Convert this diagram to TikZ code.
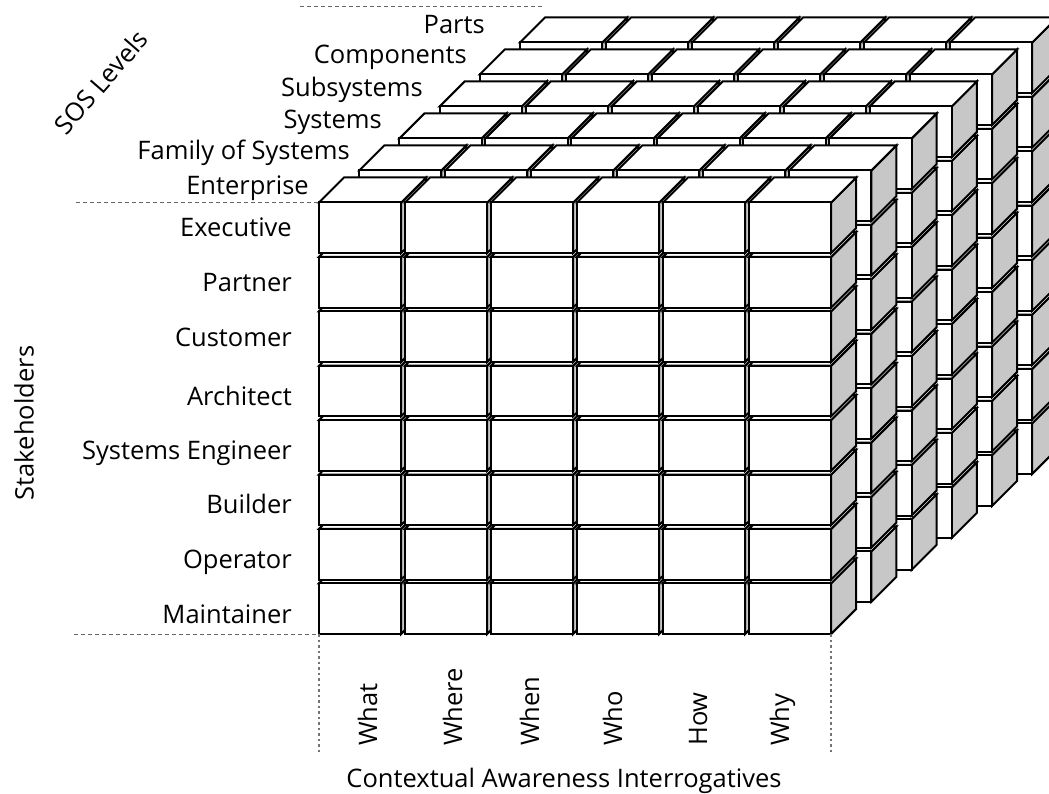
\documentclass[tikz,border=0pt]{standalone}
\usepackage{fontspec}
\setmainfont{Open Sans}
\begin{document}
\begin{tikzpicture}[x=1pt,y=-1pt,
  frontface/.style={draw=black, line width=2pt, line join=miter, fill=white},
  sideface/.style={draw=black, line width=2pt, line join=miter, fill=black!22},
  lbl/.style={font=\fontsize{25.5}{30}\selectfont, inner sep=0pt, text=black},
  guide/.style={draw=black!60, line width=1pt, dash pattern=on 4pt off 3pt},
  vguide/.style={draw=black!55, line width=1.2pt, dash pattern=on 2.5pt off 3pt}]
\useasboundingbox (0,0) rectangle (1049,794);
\def\bw{82.2}\def\bh{50.6}\def\ddx{25}\def\ddy{25}
\newcommand\blockat[2]{%
  \draw[sideface] (#1+\bw,#2) -- (#1+\bw+\ddx,#2-\ddy) -- (#1+\bw+\ddx,#2+\bh-\ddy) -- (#1+\bw,#2+\bh) -- cycle;
  \draw[frontface] (#1,#2) -- (#1+\ddx,#2-\ddy) -- (#1+\bw+\ddx,#2-\ddy) -- (#1+\bw,#2) -- cycle;
  \draw[frontface] (#1,#2) rectangle (#1+\bw,#2+\bh);
}
% blocks: layers back to front, rows bottom to top, columns left to right
\foreach \k in {5,4,...,0} {
  \foreach \r in {7,6,...,0} {
    \foreach \c in {0,...,5} {
      \pgfmathsetmacro\X{319+40.2*\k+86*\c}
      \pgfmathsetmacro\Y{202.5-32*\k+54.4*\r}
      \blockat{\X}{\Y}
    }}}
% guide coordinates
\coordinate (ftl) at (319,202.5);
\coordinate (fbl) at (319,634);
\coordinate (fbr) at (831,634);
\coordinate (gtl) at (76,202.5);
\coordinate (gbl) at (74,634);
\coordinate (ttl) at (300,7);
\coordinate (ttr) at (542,7);
\coordinate (vl) at (319,752);
\coordinate (vr) at (831,752);
\draw[guide] (gtl) -- (ftl);
\draw[guide] (gbl) -- (fbl);
\draw[guide] (ttl) -- (ttr);
\draw[vguide] (fbl) -- (vl);
\draw[vguide] (fbr) -- (vr);
% stakeholder labels
\node[lbl, anchor=base east] (executive) at (292,237) {Executive};
\node[lbl, anchor=base east] (partner) at (292,291) {Partner};
\node[lbl, anchor=base east] (customer) at (292,346) {Customer};
\node[lbl, anchor=base east] (architect) at (292,405) {Architect};
\node[lbl, anchor=base east] (syseng) at (292,459) {Systems Engineer};
\node[lbl, anchor=base east] (builder) at (292,513) {Builder};
\node[lbl, anchor=base east] (operator) at (292,568) {Operator};
\node[lbl, anchor=base east] (maintainer) at (292,623) {Maintainer};
% SOS level labels
\node[lbl, anchor=base east] (enterprise) at (309,195) {Enterprise};
\node[lbl, anchor=base east] (fos) at (350,160) {Family of Systems};
\node[lbl, anchor=base east] (systems) at (382,129) {Systems};
\node[lbl, anchor=base east] (subsystems) at (423,97) {Subsystems};
\node[lbl, anchor=base east] (components) at (467,64) {Components};
\node[lbl, anchor=base east] (parts) at (485,34) {Parts};
% interrogatives
\node[lbl, rotate=90, anchor=base west] (what) at (377,746) {What};
\node[lbl, rotate=90, anchor=base west] (where) at (462,746) {Where};
\node[lbl, rotate=90, anchor=base west] (when) at (539,746) {When};
\node[lbl, rotate=90, anchor=base west] (who) at (622,746) {Who};
\node[lbl, rotate=90, anchor=base west] (how) at (707,746) {How};
\node[lbl, rotate=90, anchor=base west] (why) at (789,746) {Why};
% axis titles
\node[lbl] (cai) at (564,781) {Contextual Awareness Interrogatives};
\node[lbl, rotate=90] (stake) at (24,423) {Stakeholders};
\node[lbl, rotate=49] (sos) at (101,82) {SOS Levels};
\end{tikzpicture}
\end{document}
